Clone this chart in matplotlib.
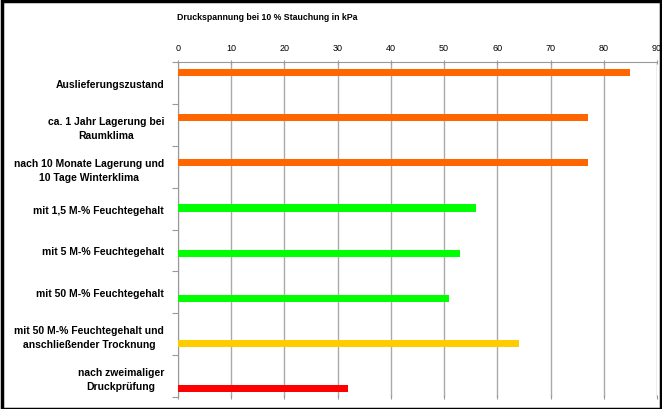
import numpy as np
import matplotlib.pyplot as plt
from matplotlib.patches import Rectangle

plt.rcParams['font.family'] = ['Liberation Sans', 'DejaVu Sans']

# Data
categories = [
    'Auslieferungszustand',
    'ca. 1 Jahr Lagerung bei\nRaumklima',
    'nach 10 Monate Lagerung und\n10 Tage Winterklima',
    'mit 1,5 M-% Feuchtegehalt',
    'mit 5 M-% Feuchtegehalt',
    'mit 50 M-% Feuchtegehalt',
    'mit 50 M-% Feuchtegehalt und\nanschließender Trocknung',
    'nach zweimaliger\nDruckprüfung',
]
values = [85, 77, 77, 56, 53, 51, 64, 32]
colors = ['#FF6600', '#FF6600', '#FF6600', '#00FF00', '#00FF00', '#00FF00',
          '#FFCC00', '#FF0000']
xticks = [0, 10, 20, 30, 40, 50, 60, 70, 80, 90]

fig = plt.figure(figsize=(6.62, 4.10), dpi=100)
ax = fig.add_axes([178 / 662, 12 / 410, 479 / 662, 335 / 410])

# bars sit slightly off the label bands, as in the original
n = len(categories)
bar_pos = np.linspace(0.25, 7.8, n)
ax.barh(bar_pos, values, height=0.17, color=colors, zorder=3)

ax.set_ylim(n, 0)
ax.set_xlim(0, 90)

# category labels in the middle of each band, ticks at band edges
ax.set_yticks(np.arange(n + 1))
ax.set_yticklabels([])
ax.set_yticks(np.arange(n) + 0.5, minor=True)
ax.set_yticklabels(categories, minor=True, fontsize=7.5, fontweight='bold',
                   ha='right', multialignment='center', linespacing=1.5)
ax.tick_params(axis='y', which='minor', length=0, pad=10)
ax.tick_params(axis='y', which='major', length=4, color='#999999', direction='out')

ax.xaxis.tick_top()
ax.set_xticks(xticks)
ax.tick_params(axis='x', which='major', length=3, color='#999999',
               direction='inout', labelsize=6.5, pad=6, bottom=True)

ax.grid(axis='x', color='#aaaaaa', linewidth=1.0, zorder=0)
ax.spines['top'].set_color('#999999')
ax.spines['left'].set_color('#999999')
ax.spines['right'].set_visible(False)
ax.spines['bottom'].set_visible(False)

fig.text(267 / 662, 1 - 17 / 410, 'Druckspannung bei 10 % Stauchung in kPa',
         ha='center', va='center', fontsize=6.3, fontweight='bold')

# frame around the picture
fig.patches.append(Rectangle((0.003, 0.0), 0.995, 0.995, transform=fig.transFigure,
                             fill=False, edgecolor='black', linewidth=2.5))

fig.savefig('out.png', dpi=100)
